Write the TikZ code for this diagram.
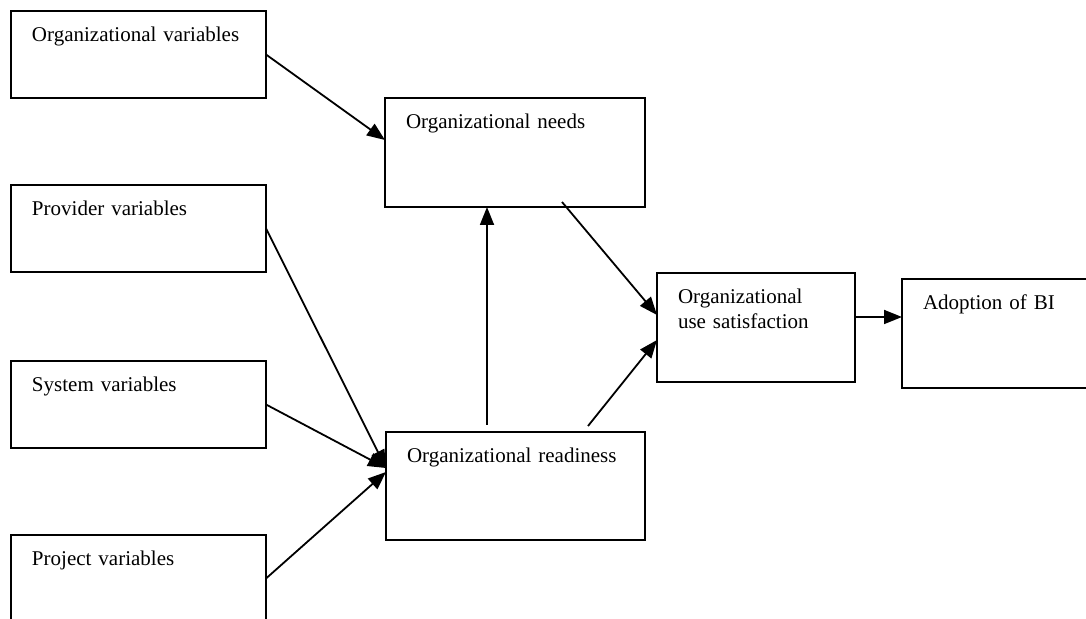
\documentclass[tikz,border=0pt]{standalone}
\usepackage{fontspec}
\setmainfont{Liberation Serif}
\usepackage{tikz}
\usetikzlibrary{arrows.meta, positioning}

\tikzset{
    box/.style 2 args={draw, line width=1pt, outer sep=0pt, anchor=north west, align=left,
        inner xsep=10.5pt, inner ysep=8pt, text width=#1, text height=7.3pt, text depth=#2,
        font=\fontsize{10.5}{12.3}\selectfont},
    link/.style={-{Triangle[length=9pt,width=7pt]}, line width=0.9pt}
}

\begin{document}
\begin{tikzpicture}[x=0.5pt, y=-0.5pt]
                    \useasboundingbox (0,0) rectangle (1086,619);
                    \foreach \name/\y/\txt in {orgvar/11/Organizational variables, provvar/185/Provider variables, sysvar/361/System variables, projvar/535/Project variables}{
                        \node[box={106.5pt}{20.2pt}] (\name) at (11,\y) {\txt};
                    }
                    \node[box={109pt}{31.2pt}] (needs) at (385,98) {Organizational needs};
                    \node[box={108.5pt}{30.7pt}] (ready) at (386,432) {Organizational readiness};
                    \node[box={78pt}{31.2pt}] (usesat) at (657,273) {Organizational\\use satisfaction};
                    \node[box={78pt}{31.2pt}] (adopt) at (902,279) {Adoption of BI};

                    \draw[link] (orgvar.east) -- ([yshift=-21pt]needs.north west);
                    \foreach \src in {provvar, sysvar}{
                        \draw[link] (\src.east) -- ([yshift=-18pt]ready.north west);
                    }
                    \draw[link] (projvar.east) -- ([yshift=-20pt]ready.north west);
                    \draw[link] ([xshift=50.5pt,yshift=3.5pt]ready.north west) -- ([xshift=51pt]needs.south west);
                    \draw[link] ([xshift=88.5pt,yshift=2.5pt]needs.south west) -- ([yshift=-21pt]usesat.north west);
                    \draw[link] ([xshift=101pt,yshift=3pt]ready.north west) -- ([yshift=-33.5pt]usesat.north west);
                    \draw[link] ([yshift=-22pt]usesat.north east) -- ([yshift=-19pt]adopt.north west);
                \end{tikzpicture}
\end{document}
